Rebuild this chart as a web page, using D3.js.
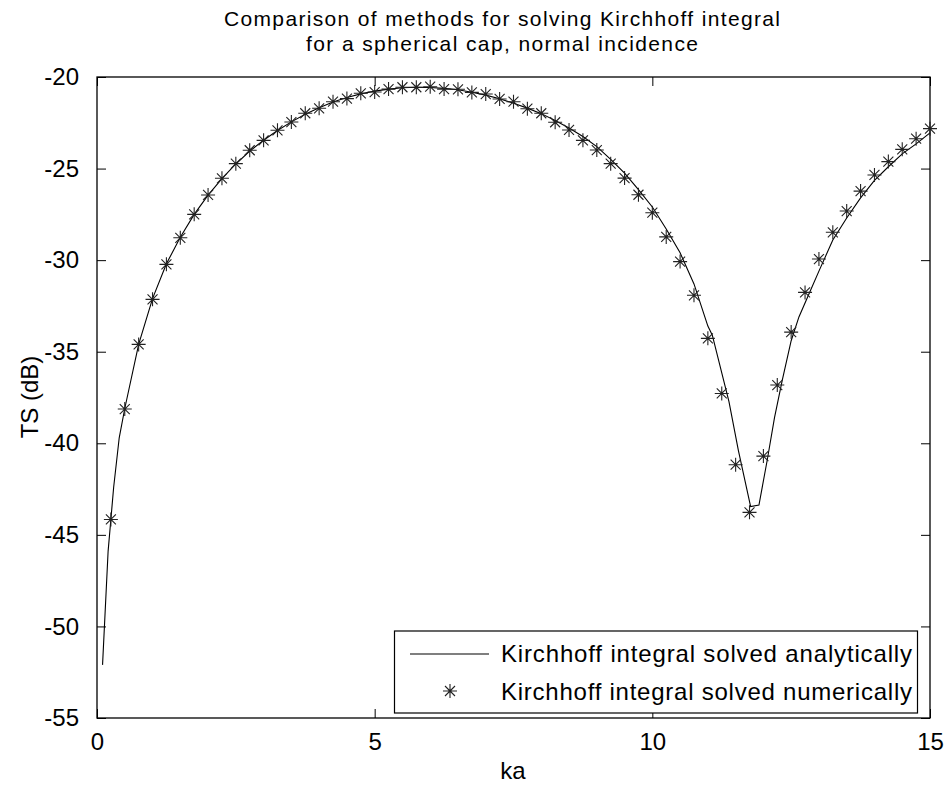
<!DOCTYPE html>
<html>
<head>
<meta charset="utf-8">
<script src="https://cdn.jsdelivr.net/npm/d3@7"></script>
<style>
  html, body { margin: 0; padding: 0; background: #fff; }
  svg { display: block; }
  text { font-family: "Liberation Sans", Arial, Helvetica, sans-serif; fill: #000; }
</style>
</head>
<body>
<svg id="chart" width="947" height="789"></svg>
<script>
// ---- Data ----
const titleLines = ["Comparison of methods for solving Kirchhoff integral", "for a spherical cap, normal incidence"];
const xLabel = "ka";
const yLabel = "TS (dB)";
const xTicks = [0, 5, 10, 15];
const yTicks = [-20, -25, -30, -35, -40, -45, -50, -55];
const legendLabels = ["Kirchhoff integral solved analytically", "Kirchhoff integral solved numerically"];

// analytic solution (line)
const lineKa = [0.1, 0.2, 0.3, 0.4, 0.5, 0.75, 1.0, 1.25, 1.5, 1.75, 2.0, 2.25, 2.5, 2.75, 3.0, 3.25, 3.5, 3.75, 4.0, 4.25, 4.5, 4.75, 5.0, 5.25, 5.5, 5.75, 6.0, 6.25, 6.5, 6.75, 7.0, 7.25, 7.5, 7.75, 8.0, 8.25, 8.5, 8.75, 9.0, 9.25, 9.5, 9.75, 10.0, 10.25, 10.5, 10.75, 11.0, 11.08, 11.38, 11.55, 11.77, 11.92, 12.07, 12.2, 12.34, 12.5, 12.64, 12.82, 13.0, 13.25, 13.5, 13.75, 14.0, 14.25, 14.5, 14.75, 15.0];
const lineTS = [-52.1, -45.9, -42.4, -39.7, -38.1, -34.6, -32.1, -30.2, -28.75, -27.5, -26.45, -25.55, -24.75, -24.05, -23.45, -22.92, -22.45, -22.03, -21.68, -21.37, -21.12, -20.92, -20.77, -20.66, -20.59, -20.56, -20.57, -20.62, -20.7, -20.83, -20.99, -21.19, -21.43, -21.7, -22.0, -22.37, -22.78, -23.25, -23.8, -24.5, -25.25, -26.15, -27.1, -28.3, -29.6, -31.3, -33.6, -34.1, -37.73, -40.4, -43.46, -43.37, -40.9, -38.6, -36.55, -34.4, -33.1, -31.85, -30.6, -28.9, -27.7, -26.6, -25.65, -24.9, -24.2, -23.65, -23.05];

// numerical solution (asterisks)
const pointKa = [0.25, 0.5, 0.75, 1.0, 1.25, 1.5, 1.75, 2.0, 2.25, 2.5, 2.75, 3.0, 3.25, 3.5, 3.75, 4.0, 4.25, 4.5, 4.75, 5.0, 5.25, 5.5, 5.75, 6.0, 6.25, 6.5, 6.75, 7.0, 7.25, 7.5, 7.75, 8.0, 8.25, 8.5, 8.75, 9.0, 9.25, 9.5, 9.75, 10.0, 10.25, 10.5, 10.75, 11.0, 11.25, 11.5, 11.75, 12.0, 12.25, 12.5, 12.75, 13.0, 13.25, 13.5, 13.75, 14.0, 14.25, 14.5, 14.75, 15.0];
const pointTS = [-44.16, -38.13, -34.6, -32.14, -30.23, -28.78, -27.5, -26.44, -25.53, -24.73, -24.0, -23.46, -22.91, -22.46, -21.98, -21.71, -21.35, -21.18, -20.89, -20.82, -20.66, -20.56, -20.56, -20.53, -20.66, -20.67, -20.84, -20.93, -21.2, -21.35, -21.73, -21.98, -22.47, -22.89, -23.46, -23.99, -24.73, -25.52, -26.43, -27.41, -28.73, -30.08, -31.92, -34.27, -37.28, -41.17, -43.77, -40.7, -36.82, -33.93, -31.76, -29.94, -28.48, -27.32, -26.23, -25.35, -24.62, -23.95, -23.37, -22.82];

// ---- Layout ----
const svg = d3.select("#chart");
const L = 97, R = 930, T = 77, B = 718;
const x = d3.scaleLinear().domain([0, 15]).range([L, R]);
const y = d3.scaleLinear().domain([-55, -20]).range([B, T]);
const fs = 24;

// axes box
svg.append("rect").attr("x", L).attr("y", T).attr("width", R - L).attr("height", B - T)
  .attr("fill", "none").attr("stroke", "#000").attr("stroke-width", 1.3);

const tickLen = 9;
const gxb = svg.append("g").attr("transform", `translate(0,${B})`)
  .call(d3.axisBottom(x).tickValues(xTicks).tickSize(-tickLen).tickPadding(tickLen + 6).tickFormat(d3.format("d")));
const gxt = svg.append("g").attr("transform", `translate(0,${T})`)
  .call(d3.axisTop(x).tickValues(xTicks).tickSize(-tickLen).tickFormat(""));
const gyl = svg.append("g").attr("transform", `translate(${L},0)`)
  .call(d3.axisLeft(y).tickValues(yTicks).tickSize(-tickLen).tickPadding(tickLen + 9).tickFormat(d => String(d)));
const gyr = svg.append("g").attr("transform", `translate(${R},0)`)
  .call(d3.axisRight(y).tickValues(yTicks).tickSize(-tickLen).tickFormat(""));
[gxb, gxt, gyl, gyr].forEach(g => {
  g.select(".domain").remove();
  g.selectAll(".tick line").attr("stroke", "#000").attr("stroke-width", 1);
  g.selectAll(".tick text").attr("font-size", fs).attr("font-family", "Liberation Sans, Arial, sans-serif").attr("fill", "#000");
});
gxb.selectAll(".tick text").attr("dy", "0.71em");

// title
const titleFs = 21;
svg.append("text").attr("x", 502).attr("y", 26).attr("text-anchor", "middle").attr("font-size", titleFs)
  .attr("textLength", 556).attr("lengthAdjust", "spacing").text(titleLines[0]);
svg.append("text").attr("x", 502).attr("y", 50.5).attr("text-anchor", "middle").attr("font-size", titleFs)
  .attr("textLength", 392).attr("lengthAdjust", "spacing").text(titleLines[1]);

// axis labels
svg.append("text").attr("x", 513).attr("y", 779).attr("text-anchor", "middle").attr("font-size", fs).text(xLabel);
svg.append("text").attr("transform", `translate(38,397) rotate(-90)`).attr("text-anchor", "middle").attr("font-size", fs).text(yLabel);

// analytic line
const lineData = lineKa.map((k, i) => [k, lineTS[i]]);
svg.append("path").datum(lineData)
  .attr("d", d3.line().x(d => x(d[0])).y(d => y(d[1])))
  .attr("fill", "none").attr("stroke", "#000").attr("stroke-width", 1.1);

// asterisk markers
const starPath = "M-7,0H7M0,-7V7M-5,-5L5,5M-5,5L5,-5";
const pts = pointKa.map((k, i) => [k, pointTS[i]]);
svg.append("g").selectAll("path").data(pts).join("path")
  .attr("transform", d => `translate(${x(d[0])},${y(d[1])})`)
  .attr("d", starPath).attr("fill", "none").attr("stroke", "#222").attr("stroke-width", 1.1);

// legend
const lg = svg.append("g");
lg.append("rect").attr("x", 394.5).attr("y", 631).attr("width", 523).attr("height", 82)
  .attr("fill", "#fff").attr("stroke", "#000").attr("stroke-width", 1.2);
lg.append("line").attr("x1", 410).attr("x2", 489).attr("y1", 654).attr("y2", 654).attr("stroke", "#000").attr("stroke-width", 1.1);
lg.append("path").attr("transform", "translate(450,691)").attr("d", starPath).attr("fill", "none").attr("stroke", "#222").attr("stroke-width", 1.1);
legendLabels.forEach((t, i) => {
  lg.append("text").attr("x", 501).attr("y", 654 + i * 38).attr("dy", "0.35em").attr("font-size", fs)
    .attr("textLength", 411).attr("lengthAdjust", "spacing").text(t);
});
</script>
</body>
</html>
